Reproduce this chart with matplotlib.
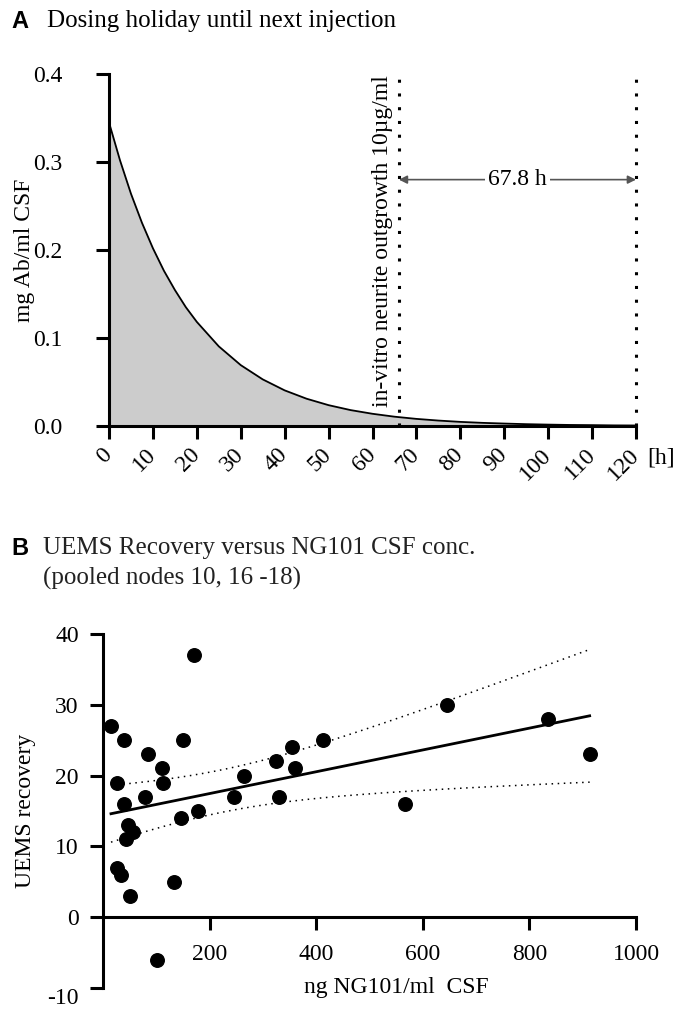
import numpy as np
import matplotlib
matplotlib.use("Agg")
import matplotlib.pyplot as plt

plt.rcParams['font.family'] = ['Liberation Serif', 'DejaVu Serif']

# panel A: antibody concentration in CSF after injection
hours = [0, 2.5, 5, 7.5, 10, 12.5, 15, 17.5, 20, 25, 30, 35, 40, 45, 50, 55, 60,
         65, 70, 75, 80, 85, 90, 95, 100, 105, 110, 115, 120]
conc = [0.345, 0.302, 0.264, 0.231, 0.202, 0.1765, 0.1546, 0.135, 0.1183, 0.0905,
        0.0692, 0.053, 0.0405, 0.031, 0.0237, 0.0181, 0.0139, 0.0106, 0.0081, 0.0062,
        0.0047, 0.0036, 0.0028, 0.0021, 0.0016, 0.0012, 0.001, 0.0007, 0.0006]
t_threshold = 66
t_next = 120
holiday_label = "67.8 h"
xticks_a = list(range(0, 121, 10))
yticks_a = [0.0, 0.1, 0.2, 0.3, 0.4]

# panel B: UEMS recovery vs NG101 CSF concentration
ng_csf = [15, 39, 85, 110, 112, 26, 150, 171, 79, 39, 265, 246, 178, 47, 57, 44,
          26, 33, 51, 133, 147, 101, 324, 355, 361, 330, 412, 566, 646, 835, 913]
uems = [27, 25, 23, 21, 19, 19, 25, 37, 17, 16, 20, 17, 15, 13, 12, 11,
        7, 6, 3, 5, 14, -6, 22, 24, 21, 17, 25, 16, 30, 28, 23]
xticks_b = [200, 400, 600, 800, 1000]
yticks_b = [-10, 0, 10, 20, 30, 40]

FS = 17
FT = 18  # panel titles
fig = plt.figure(figsize=(6.83, 10.10), dpi=100)

# ---------- A ----------
ax = fig.add_axes([0.1596, 0.5782, 0.7716, 0.3485])
ax.fill_between(hours, conc, 0, color='#cccccc', lw=0)
ax.plot(hours, conc, color='black', lw=1.3)
ax.axvline(t_threshold, color='black', ls=(0, (1, 3.5)), lw=2.2, clip_on=False)
ax.axvline(t_next, color='black', ls=(0, (1, 3.5)), lw=2.2, clip_on=False)
ax.text(t_threshold - 1.3, 0.399, "in-vitro neurite outgrowth 10µg/ml", rotation=90,
        ha='right', va='top', fontsize=FS)
ax.annotate("", xy=(t_threshold, 0.28), xytext=(t_next, 0.28),
            arrowprops=dict(arrowstyle='<|-|>', color='#555555', lw=1.2,
                            shrinkA=0, shrinkB=0, mutation_scale=12))
ax.text((t_threshold + t_next) / 2, 0.28, holiday_label, ha='center', va='center',
        fontsize=FS, bbox=dict(facecolor='white', edgecolor='none', pad=2))
ax.set_xlim(0, 120)
ax.set_ylim(0, 0.4)
ax.set_xticks(xticks_a)
ax.set_xticklabels([str(v) for v in xticks_a], rotation=45, ha='right', va='center',
                   rotation_mode='anchor', fontsize=FS)
ax.set_yticks(yticks_a)
ax.set_yticklabels(["%.1f" % v for v in yticks_a], fontsize=FS)
ax.spines['top'].set_visible(False)
ax.spines['right'].set_visible(False)
for s in ['left', 'bottom']:
    ax.spines[s].set_linewidth(2.2)
ax.tick_params(axis='both', width=2.2, length=9.5)
ax.tick_params(axis='y', pad=24)
ax.tick_params(axis='x', pad=9)
ax.set_ylabel("mg Ab/ml CSF", fontsize=FS)
ax.yaxis.set_label_coords(-0.14, 0.5)
ax.text(1.047, -0.092, "[h]", transform=ax.transAxes, fontsize=FS, ha='center', va='center')

fig.text(0.017, 0.979, "A", family='Liberation Sans', weight='bold', fontsize=FS,
         ha='left', va='center')
fig.text(0.069, 0.979, "Dosing holiday until next injection", fontsize=FT,
         ha='left', va='center')

# ---------- B ----------
bx = fig.add_axes([0.1508, 0.0218, 0.7804, 0.3505])
x = np.array(ng_csf, dtype=float)
y = np.array(uems, dtype=float)
slope, icpt = np.polyfit(x, y, 1)
n = len(x)
resid = y - (slope * x + icpt)
s_err = np.sqrt(np.sum(resid ** 2) / (n - 2))
sxx = np.sum((x - x.mean()) ** 2)
xf = np.linspace(x.min(), x.max(), 200)
yf = slope * xf + icpt
half = 2.045 * s_err * np.sqrt(1.0 / n + (xf - x.mean()) ** 2 / sxx)

bx.plot(xf, yf + half, color='black', ls=(0, (1, 3)), lw=1.1)
bx.plot(xf, yf - half, color='black', ls=(0, (1, 3)), lw=1.1)
bx.plot(xf, yf, color='black', lw=2)
bx.scatter(x, y, s=95, color='black', zorder=3, clip_on=False)

bx.spines['top'].set_visible(False)
bx.spines['right'].set_visible(False)
bx.spines['bottom'].set_position(('data', 0))
for s in ['left', 'bottom']:
    bx.spines[s].set_linewidth(2.2)
bx.set_xlim(0, 1000)
bx.set_ylim(-10, 40)
bx.set_xticks(xticks_b)
bx.set_xticklabels([str(v) for v in xticks_b], fontsize=FS)
bx.set_yticks(yticks_b)
bx.set_yticklabels([str(v) for v in yticks_b], fontsize=FS)
for lab in bx.get_yticklabels():
    if lab.get_text() == '-10':
        lab.set_va('top')
bx.tick_params(axis='both', width=2.2, length=9.5)
bx.tick_params(axis='y', pad=8)
bx.tick_params(axis='x', pad=10)
bx.set_ylabel("UEMS recovery", fontsize=FS)
bx.yaxis.set_label_coords(-0.125, 0.5)
bx.text(550, -9.9, "ng NG101/ml  CSF", fontsize=FS, ha='center', va='center')

fig.text(0.017, 0.4574, "B", family='Liberation Sans', weight='bold', fontsize=FS,
         ha='left', va='center')
fig.text(0.063, 0.4574, "UEMS Recovery versus NG101 CSF conc.", fontsize=FT,
         ha='left', va='center', color='#222222')
fig.text(0.063, 0.4277, "(pooled nodes 10, 16 -18)", fontsize=FT,
         ha='left', va='center', color='#222222')

fig.savefig("out.png", dpi=100)
